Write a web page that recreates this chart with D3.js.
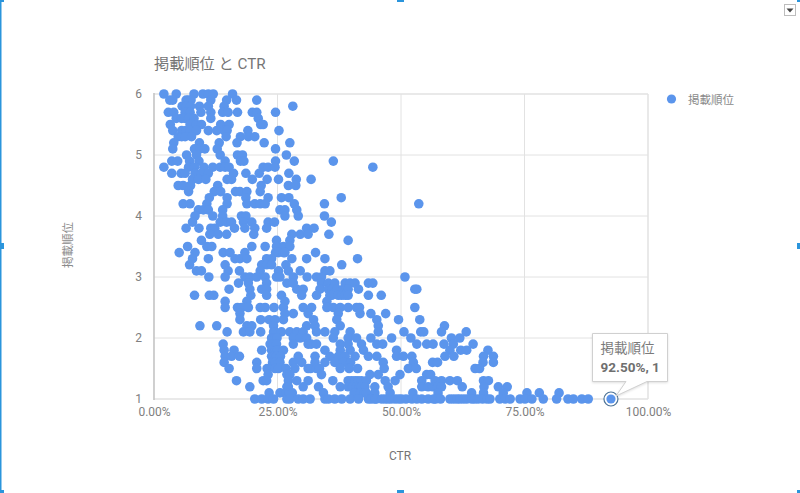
<!DOCTYPE html>
<html><head><meta charset="utf-8">
<script src="https://cdnjs.cloudflare.com/ajax/libs/d3/7.8.5/d3.min.js"></script>
<style>
html,body{margin:0;padding:0;background:#fff;overflow:hidden}
svg text{font-family:Roboto,"Noto Sans CJK JP",sans-serif}
</style></head><body><svg id="c" width="800" height="493"></svg>
<script>
const chartTitle="掲載順位 と CTR", seriesName="掲載順位", xTitle="CTR";
const xTicks=[0,25,50,75,100];
const yTicks=[1,2,3,4,5,6];
const highlight={ctr:92.5,pos:1};
const positions=[6.0,5.9,5.8,5.7,5.6,5.5,5.4,5.3,5.2,5.1,5.0,4.9,4.8,4.7,4.6,4.5,4.4,4.3,4.2,4.1,4.0,3.9,3.8,3.7,3.6,3.5,3.4,3.3,3.2,3.1,3.0,2.9,2.8,2.7,2.6,2.5,2.4,2.3,2.2,2.1,2.0,1.9,1.8,1.7,1.6,1.5,1.4,1.3,1.2,1.1,1.0];
const ctrByPosition=[
[2,4.5,8.1,9.9,11,12,15.9],
[3.2,3.8,6.5,7,7.5,11.5,14.7,16.7,20.8],
[5.7,6.6,7.4,9.2,11,14.2,28.1],
[2.9,4,6.3,7.3,9.5,11.5,13.9,15,16.9,19.9,20.8,24.6],
[4.5,5.6,6.3,7,8.1,11.5,21.1],
[3.3,7.3,8.6,9.6,13.5,15.2,21.6,22.1],
[3.8,5.6,6.5,7.3,8.6,11,12.7,14.2,14.8,19,25.3],
[4.9,5.6,6.3,7.6,14.6,17.5,19.1,20.4],
[4,9.2,13.2,16.8,22.3,27.5],
[3.8,8.2,9.3,10.3,12.8,24.6],
[6.6,8.6,13.4,16.9,17.9,26.8],
[3.6,4.8,7.2,9.1,14.4,17.5,18.2,24.6,28.4,36.3],
[2,7,8.2,10.1,11.9,13.4,14.4,15.2,22.1,23.1,24.5,44.3],
[3.6,5.5,6.3,8.3,9.6,11,16.1,18.6,21.3,27.3],
[7.8,9,10.5,14.8,15.7,19.9,22.9,25.2,28.8,31.8],
[4.9,5.9,7.4,12.9,21.7,27.2,28.7],
[7,12.2,13.5,16.5,17.4,18.8,21.5],
[11.2,14.8,18.6,23.1,25.8,27.3,37.9],
[5.9,7.3,10.7,14.8,18.8,20.4,21.5,22.5,28.4,34.5,53.6],
[9,10,11,13.9,25.5,26.5,28.9],
[8.3,11.9,13.9,17.7,18.6,26.5,29.2,34.5],
[7.8,13.4,14.7,15.7,18.1,19.8,23.1,24.4,35.9],
[6.5,9.1,11.5,12.3,16.3,18.4,20.4,22.8,30.9,32.4],
[11.3,13,14.7,20.2,27.9,29.6,31.2,35.4],
[9.6,24.8,27.5,39.3],
[6.8,10.7,11.7,19.8,22.5,24.8,26.2,27.5],
[5.1,8.3,14,15.4,18.4,24.6,25.2,26.2,26.5,32.7],
[7.8,11,16.4,17.4,18.8,22.8,23.8,27.9,30.9,34.6,41.2],
[7.2,14.4,21.8,22.8,23.8,26.7,38],
[8.6,9.6,15,17.3,21.5,25.2,27.2,29.6,34.6,35.6],
[11.1,14.4,18.4,19.4,20.8,22.5,24.8,25.5,28.2,31,32.9,33.9,50.8],
[17.1,19.1,22.8,26.9,28.2,33.9,35.3,36.6,38.7,39.7,40.7,43.4,44.3],
[15.2,19.4,21.8,22.8,28.9,30.2,33.6,35.3,36,37,38.3,38.9,39.3,41.4,52.8,53.2],
[8.2,11.2,12.1,19.6,22.8,25.8,29.9,32.9,35.6,36,37.3,38,38.7,39.3,43.4,46],
[14.4,18.8,26.5,35],
[14.4,16.9,17.7,19.1,21.5,22.5,24.3,26.2,30.2,31.9,35,36.3,37.7,39.3,41,41.6,52.8],
[17.4,26.5,28.2,31.2,37.3,41.7,43.9,46.9],
[17.4,21.6,23.3,24.5,26.2,32.3,37,45.1,49.5,53.8],
[9.3,12.7,18.8,19.8,24.2,30.9,32.6,37.7,45.4,58.8],
[14.8,18.1,19.4,21.6,24.2,24.5,25.8,27.5,28.9,30.2,32.9,34.6,36.6,39.7,45.4,50.6,54,54.6,58.2,63.2],
[23.8,24.5,24.9,28.2,29.6,30.9,36.3,39.3,41,43.9,48.1,52,60.2,61.9],
[14,23.5,24.2,24.8,28.2,31.2,31.8,32.9,37.7,39.3,42,45.1,46.3,53.2,55.2,56.5,58.7,60.6,64.6],
[14.2,16.2,21.8,23.8,24.6,25,26.2,34.6,37.7,39.7,42.4,49.1,59.9,62.1,63.3,67.6],
[14.4,15.7,17.3,23.8,24.2,24.8,25.6,29.2,32.6,35.6,37.3,38.7,40.7,43.4,45.1,49.1,50.5,52.2,58.9,60.7,66.7,68.7],
[14.2,20.8,24,24.5,25.5,28.2,29.9,32.6,34.6,36.6,38.3,39.8,46.4,52.5,56.4,57.4,66.6,68.7],
[15.2,20.8,22.9,24.5,25.2,26.7,28.5,31.2,31.7,32.9,33.5,37.7,39.5,41.2,46.6,51.5,53.1,65,65.9],
[23.1,26.9,27.5,33.9,43.7,45.4,49.8,55.2,56],
[16.7,22.1,22.8,27.2,28.9,31.2,36.2,39.3,40,40.7,41.3,42,43,46.8,48.8,54.2,56.9,58.2,59.9,61.4,66.7,67.7],
[19.4,26.9,27.2,30.2,33.3,37.7,39.3,40.2,41,41.6,42,42.7,44.7,47.4,54.2,55.5,56.4,56.9,57.4,58.2,62.4,66.8,69.7,71.5],
[23.3,25.5,26.8,27.4,28,34.3,40.5,41.8,42.5,43,44.7,47.8,52.4,57.5,64.3,66.7,70.7,75.5,78,82],
[20.4,21.8,23.1,24.2,26.9,27.5,29.2,30.2,31.6,34.6,35.3,36.6,38,39.7,41.4,43.4,44,44.7,45,46.1,46.8,47.4,48,48.8,49.5,50.1,51,52.2,53.2,54.2,55.5,56.6,57,58,59.9,60.6,61.3,61.9,62.6,63.3,64.3,64.9,65.6,66.5,67.4,68,70,71.1,72.1,74.1,75.1,76.5,78.8,81.5,83.8,84.9,86.6,87.9,92.5]
];
const points=positions.flatMap((p,i)=>ctrByPosition[i].map(c=>({ctr:c,pos:p})));

const svg=d3.select("#c");
const x=d3.scaleLinear().domain([0,100]).range([154,648]);
const y=d3.scaleLinear().domain([1,6]).range([399,94]);
const blue="#5b95ec", grey="#757575";

// selection frame
const handle="#2b95dc";
svg.append("rect").attr("x",0).attr("y",0).attr("width",1.5).attr("height",493).attr("fill",handle);
svg.append("rect").attr("x",0).attr("y",0).attr("width",4).attr("height",2).attr("fill",handle);
[[397,0,7,2],[0,243,4,6],[797,243,3,6],[397,490,7,3],[0,490,4,3],[797,0,3,2],[797,490,3,3]].forEach(r=>
  svg.append("rect").attr("x",r[0]).attr("y",r[1]).attr("width",r[2]).attr("height",r[3]).attr("fill",handle));

// menu button
svg.append("rect").attr("x",784.5).attr("y",4.5).attr("width",11).attr("height",11).attr("fill","#fff").attr("stroke","#bdbdbd");
svg.append("path").attr("d","M786.5 8.5h7l-3.5 4z").attr("fill","#444");

// title
svg.append("text").attr("x",154).attr("y",69).attr("font-size",15.2).attr("fill",grey).text(chartTitle);

// grid
const g=svg.append("g");
g.selectAll("line.v").data(xTicks.slice(1)).join("line").attr("class","v")
 .attr("x1",d=>x(d)).attr("x2",d=>x(d)).attr("y1",y(6)).attr("y2",y(1))
 .attr("stroke","#e2e2e2").attr("stroke-width",d=>d===100?1.5:1);
g.selectAll("line.h").data(yTicks).join("line").attr("class","h")
 .attr("x1",x(0)).attr("x2",x(100)).attr("y1",d=>y(d)).attr("y2",d=>y(d))
 .attr("stroke","#e2e2e2").attr("stroke-width",d=>d===6||d===1?1.5:1);
g.append("line").attr("x1",x(0)).attr("x2",x(0)).attr("y1",y(6)-1).attr("y2",y(1)+1).attr("stroke","#c4c4c4").attr("stroke-width",1.6);

// axes (labels only)
const ax=svg.append("g").attr("transform","translate(0,"+(y(1)+0)+")")
 .call(d3.axisBottom(x).tickValues(xTicks).tickFormat(d=>d.toFixed(2)+"%").tickSize(0).tickPadding(8));
const ay=svg.append("g").attr("transform","translate("+x(0)+",0)")
 .call(d3.axisLeft(y).tickValues(yTicks).tickFormat(d3.format("d")).tickSize(0).tickPadding(12));
[ax,ay].forEach(a=>{a.select(".domain").remove();a.selectAll("text").attr("fill","#808080").attr("font-size",12).attr("font-family",'Roboto,"Noto Sans CJK JP",sans-serif');});

// axis titles
svg.append("text").attr("x",x(50)-1).attr("y",460).attr("text-anchor","middle").attr("font-size",12).attr("fill",grey).text(xTitle);
svg.append("text").attr("transform","translate(72,245) rotate(-90)").attr("text-anchor","middle").attr("font-size",11.5).attr("fill","#8a8a8a").text(seriesName);

// points
svg.append("g").selectAll("circle").data(points).join("circle")
 .attr("cx",d=>x(d.ctr)).attr("cy",d=>y(d.pos)).attr("r",4.8).attr("fill",blue);

// highlighted point
svg.append("circle").attr("cx",x(highlight.ctr)).attr("cy",y(highlight.pos)).attr("r",7).attr("fill","#fff").attr("stroke","#4d7396").attr("stroke-width",1.2);
svg.append("circle").attr("cx",x(highlight.ctr)).attr("cy",y(highlight.pos)).attr("r",4.6).attr("fill",blue);

// legend
svg.append("circle").attr("cx",671.5).attr("cy",99).attr("r",4.6).attr("fill",blue);
svg.append("text").attr("x",688).attr("y",103.5).attr("font-size",11.5).attr("fill","#8a8a8a").text(seriesName);

// tooltip
const tt=svg.append("g");
const hx=x(highlight.ctr), hy=y(highlight.pos);
tt.append("path").attr("d",`M592.5 333.5H667.5V381.5H647L${hx+5} ${hy-3}L626 381.5H592.5Z`)
  .attr("fill","#fff").attr("stroke","#d0d0d0").attr("stroke-width",1)
  .style("filter","drop-shadow(0 1px 1px rgba(0,0,0,.12))");
tt.append("text").attr("x",600.5).attr("y",353).attr("font-size",13.5).attr("fill","#7a7a7a").text(seriesName);
tt.append("text").attr("x",600.5).attr("y",372).attr("font-size",13.5).attr("font-weight",700).attr("fill","#6f6f6f")
  .text(highlight.ctr.toFixed(2)+"%, "+highlight.pos);
</script></body></html>
